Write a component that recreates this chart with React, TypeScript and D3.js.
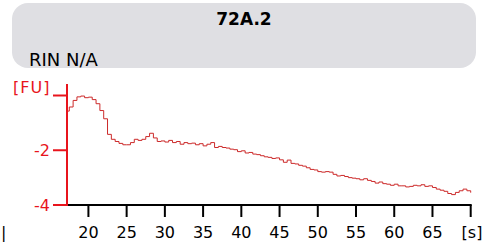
import * as d3 from "d3";
import { useEffect, useRef } from "react";

const title = "72A.2";
const subtitle = "RIN N/A";

// migration time [s]
const times = [
  17.2, 17.5, 18, 18.5, 19, 19.5, 20, 20.5, 21, 21.5, 22, 22.5, 23, 23.5, 24, 24.5,
  25, 25.5, 26, 26.5, 27, 27.5, 28, 28.5, 29, 29.5, 30, 30.5, 31, 31.5, 32, 32.5,
  33, 33.5, 34, 34.5, 35, 35.5, 36, 36.5, 37, 37.5, 38, 38.5, 39, 39.5, 40, 40.5,
  41, 41.5, 42, 42.5, 43, 43.5, 44, 44.5, 45, 45.5, 46, 46.5, 47, 47.5, 48, 48.5,
  49, 49.5, 50, 50.5, 51, 51.5, 52, 52.5, 53, 53.5, 54, 54.5, 55, 55.5, 56, 56.5,
  57, 57.5, 58, 58.5, 59, 59.5, 60, 60.5, 61, 61.5, 62, 62.5, 63, 63.5, 64, 64.5,
  65, 65.5, 66, 66.5, 67, 67.5, 68, 68.5, 69, 69.5, 70,
];

// fluorescence [FU]
const fu = [
  -0.57, -0.42, -0.18, -0.05, -0.02, -0.08, -0.06, -0.15, -0.3, -0.55, -0.85, -1.42, -1.6, -1.68, -1.75, -1.8,
  -1.8, -1.72, -1.6, -1.64, -1.6, -1.5, -1.38, -1.55, -1.68, -1.66, -1.7, -1.64, -1.72, -1.68, -1.78, -1.72,
  -1.76, -1.74, -1.8, -1.76, -1.84, -1.78, -1.72, -1.9, -1.86, -1.9, -1.92, -1.96, -1.98, -2.05, -2.02, -2.1,
  -2.08, -2.14, -2.16, -2.2, -2.24, -2.26, -2.3, -2.28, -2.35, -2.44, -2.36, -2.48, -2.5, -2.55, -2.58, -2.64,
  -2.7, -2.72, -2.78, -2.8, -2.78, -2.8, -2.88, -2.94, -2.92, -2.96, -3.0, -3.02, -3.04, -3.08, -3.04, -3.1,
  -3.14, -3.2, -3.16, -3.22, -3.24, -3.28, -3.24, -3.3, -3.3, -3.34, -3.32, -3.28, -3.3, -3.26, -3.32, -3.3,
  -3.36, -3.42, -3.46, -3.5, -3.58, -3.62, -3.54, -3.48, -3.42, -3.48, -3.55,
];

const xTicks = [20, 25, 30, 35, 40, 45, 50, 55, 60, 65, 70];
const yTicks = [0, -2, -4];

const W = 497;
const H = 246;
const FONT = "'DejaVu Sans', Verdana, sans-serif";

export default function App() {
  const svgRef = useRef<SVGSVGElement>(null);

  useEffect(() => {
    if (!svgRef.current) return;
    const svg = d3.select(svgRef.current);
    svg.selectAll("*").remove();

    const x = d3.scaleLinear().domain([17.2, 70]).range([67, 470.7]);
    const y = d3.scaleLinear().domain([-4, 0]).range([205, 95.5]);

    // header box
    svg
      .append("rect")
      .attr("x", 12)
      .attr("y", 3)
      .attr("width", 464)
      .attr("height", 65)
      .attr("rx", 16)
      .style("fill", "#dfdfe3");

    svg
      .append("text")
      .attr("x", 244)
      .attr("y", 25)
      .attr("text-anchor", "middle")
      .style("font-family", FONT)
      .style("font-size", "17px")
      .style("font-weight", "bold")
      .style("fill", "#000")
      .text(title);

    svg
      .append("text")
      .attr("x", 29)
      .attr("y", 66)
      .style("font-family", FONT)
      .style("font-size", "18px")
      .style("fill", "#000")
      .text(subtitle);

    // data trace
    const line = d3
      .line<number>()
      .x((_, i) => x(times[i]))
      .y((d) => y(d))
      .curve(d3.curveStepAfter);

    svg
      .append("path")
      .datum(fu)
      .attr("d", line)
      .style("fill", "none")
      .style("stroke", "#cc2a2a")
      .style("stroke-width", 1);

    // x axis
    const xAxis = svg.append("g").attr("transform", "translate(0,205)");
    xAxis
      .append("line")
      .attr("x1", x(17.2))
      .attr("x2", x(70) + 1)
      .attr("y1", 0)
      .attr("y2", 0)
      .style("stroke", "#000")
      .style("stroke-width", 2);
    xAxis
      .selectAll(".xt")
      .data(xTicks)
      .enter()
      .append("line")
      .attr("x1", (d) => x(d))
      .attr("x2", (d) => x(d))
      .attr("y1", 0)
      .attr("y2", 12)
      .style("stroke", "#000")
      .style("stroke-width", 2);
    xAxis
      .selectAll(".xl")
      .data(xTicks.filter((d) => d < 70))
      .enter()
      .append("text")
      .attr("x", (d) => x(d))
      .attr("y", 33)
      .attr("text-anchor", "middle")
      .style("font-family", FONT)
      .style("font-size", "16px")
      .style("fill", "#000")
      .text((d) => d);

    svg
      .append("text")
      .attr("x", 472)
      .attr("y", 238)
      .attr("text-anchor", "middle")
      .style("font-family", FONT)
      .style("font-size", "16px")
      .style("fill", "#000")
      .text("[s]");

    svg
      .append("text")
      .attr("x", 1)
      .attr("y", 238)
      .style("font-family", FONT)
      .style("font-size", "16px")
      .style("fill", "#000")
      .text("|");

    // y axis
    const yAxis = svg.append("g");
    yAxis
      .append("line")
      .attr("x1", 67)
      .attr("x2", 67)
      .attr("y1", 84)
      .attr("y2", 206)
      .style("stroke", "#e8141c")
      .style("stroke-width", 2);
    yAxis
      .selectAll(".yt")
      .data(yTicks)
      .enter()
      .append("line")
      .attr("x1", 53)
      .attr("x2", 67)
      .attr("y1", (d) => y(d))
      .attr("y2", (d) => y(d))
      .style("stroke", "#e8141c")
      .style("stroke-width", 2);
    yAxis
      .selectAll(".yl")
      .data(yTicks.filter((d) => d !== 0))
      .enter()
      .append("text")
      .attr("x", 50)
      .attr("y", (d) => y(d))
      .attr("dy", "0.36em")
      .attr("text-anchor", "end")
      .style("font-family", FONT)
      .style("font-size", "16px")
      .style("fill", "#e8141c")
      .text((d) => d);

    svg
      .append("text")
      .attr("x", 13)
      .attr("y", 93)
      .style("font-family", FONT)
      .style("font-size", "16px")
      .style("letter-spacing", "1px")
      .style("fill", "#e8141c")
      .text("[FU]");
  }, []);

  return (
    <svg
      ref={svgRef}
      width={W}
      height={H}
      style={{ position: "absolute", left: 0, top: 0, background: "#fff" }}
    />
  );
}
